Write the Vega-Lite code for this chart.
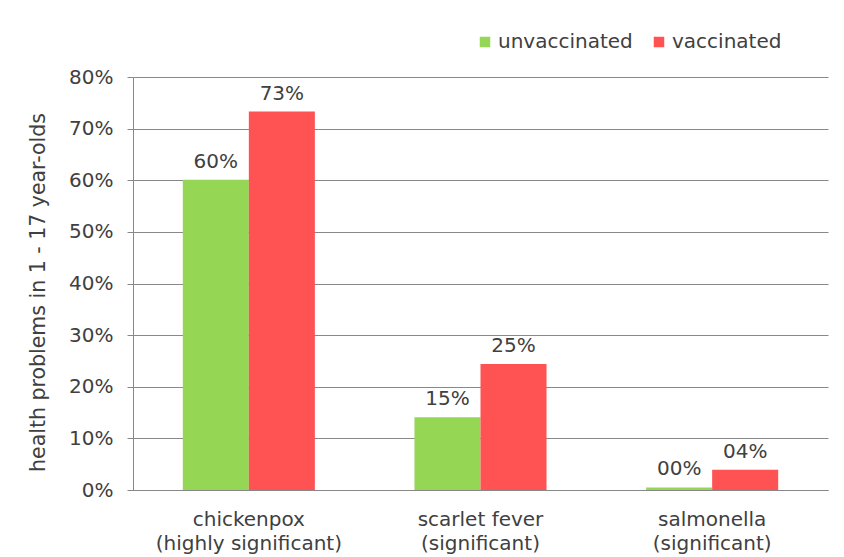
{
  "$schema": "https://vega.github.io/schema/vega-lite/v6.json",
  "width": 695,
  "height": 413,
  "autosize": {"type": "none"},
  "padding": {"left": 133, "top": 77, "right": 16, "bottom": 67},
  "background": "white",
  "data": {
    "values": [
      {"disease": "chickenpox (highly significant)", "group": "unvaccinated", "share": 0.601, "label": "60%"},
      {"disease": "chickenpox (highly significant)", "group": "vaccinated", "share": 0.733, "label": "73%"},
      {"disease": "scarlet fever (significant)", "group": "unvaccinated", "share": 0.141, "label": "15%"},
      {"disease": "scarlet fever (significant)", "group": "vaccinated", "share": 0.244, "label": "25%"},
      {"disease": "salmonella (significant)", "group": "unvaccinated", "share": 0.005, "label": "00%"},
      {"disease": "salmonella (significant)", "group": "vaccinated", "share": 0.039, "label": "04%"}
    ]
  },
  "encoding": {
    "x": {
      "field": "disease",
      "type": "nominal",
      "sort": null,
      "scale": {"paddingInner": 0.43, "paddingOuter": 0.215},
      "axis": {
        "title": null,
        "labelAngle": 0,
        "labelLimit": 400,
        "labelExpr": "[slice(datum.label, 0, indexof(datum.label, ' (')), slice(datum.label, indexof(datum.label, ' (') + 1)]",
        "labelFont": "DejaVu Sans",
        "labelFontSize": 20,
        "labelLineHeight": 24,
        "labelColor": "#404040",
        "labelPadding": 19,
        "ticks": false,
        "domainColor": "#888888",
        "domainWidth": 1
      }
    },
    "xOffset": {"field": "group", "type": "nominal", "sort": ["unvaccinated", "vaccinated"]},
    "y": {
      "field": "share",
      "type": "quantitative",
      "scale": {"domain": [0, 0.8]},
      "axis": {
        "title": "health problems in 1 - 17 year-olds",
        "titleFont": "DejaVu Sans",
        "titleFontSize": 20.5,
        "titleFontWeight": "normal",
        "titleColor": "#404040",
        "titlePadding": 20,
        "titleY": 215,
        "format": ".0%",
        "values": [0, 0.1, 0.2, 0.3, 0.4, 0.5, 0.6, 0.7, 0.8],
        "labelFont": "DejaVu Sans",
        "labelFontSize": 20,
        "labelColor": "#404040",
        "labelPadding": 14,
        "tickSize": 6,
        "tickColor": "#888888",
        "domainColor": "#888888",
        "gridColor": "#888888",
        "gridOpacity": 1,
        "grid": true
      }
    }
  },
  "layer": [
    {
      "mark": {"type": "bar"},
      "encoding": {
        "color": {
          "field": "group",
          "type": "nominal",
          "sort": ["unvaccinated", "vaccinated"],
          "scale": {"domain": ["unvaccinated", "vaccinated"], "range": ["#95d655", "#ff5252"]},
          "legend": {
            "title": null,
            "orient": "none",
            "direction": "horizontal",
            "legendX": 342,
            "legendY": -45,
            "symbolType": "square",
            "symbolSize": 110,
            "symbolStrokeWidth": 0,
            "labelFont": "DejaVu Sans",
            "labelFontSize": 20,
            "labelColor": "#404040",
            "labelOffset": 3,
            "columnPadding": 16
          }
        }
      }
    },
    {
      "mark": {"type": "text", "baseline": "alphabetic", "dy": -12, "font": "DejaVu Sans", "fontSize": 20, "color": "#404040"},
      "encoding": {"text": {"field": "label"}}
    }
  ],
  "config": {"view": {"stroke": null}, "axis": {"gridWidth": 1}}
}
